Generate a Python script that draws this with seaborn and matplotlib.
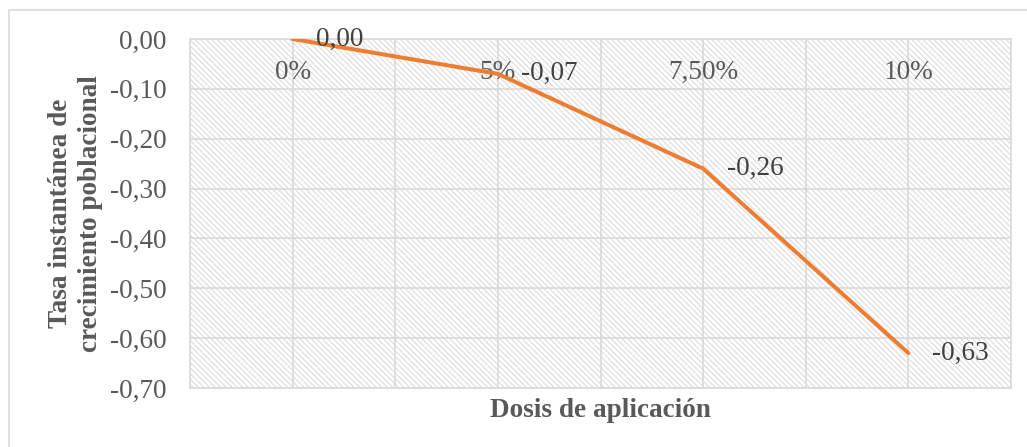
import matplotlib
matplotlib.use("Agg")
import matplotlib.pyplot as plt
from matplotlib.patches import Rectangle
from matplotlib.ticker import MultipleLocator, FuncFormatter
import seaborn as sns
import pandas as pd

# datos
dosis = ["0%", "5%", "7,50%", "10%"]
tasa = [0.00, -0.07, -0.26, -0.63]

sns.set_style("white")
plt.rcParams["font.family"] = ["Liberation Serif", "DejaVu Serif"]
plt.rcParams["hatch.linewidth"] = 0.8

gris_txt = "#595959"
gris_grid = "#D9D9D9"
fs = 19.6

df = pd.DataFrame({"pos": range(len(dosis)), "tasa": tasa})

fig = plt.figure(figsize=(10.27, 4.47), dpi=100)
ax = fig.add_axes([190 / 1027, 1 - 388 / 447, 821 / 1027, 349 / 447])

# fondo rayado del area de trazado
ax.patch.set_facecolor("white")
ax.patch.set_edgecolor("#DCDCDC")
ax.patch.set_hatch("\\\\\\\\\\\\")
ax.patch.set_linewidth(0)

sns.lineplot(data=df, x="pos", y="tasa", ax=ax, color="#ED7D31", lw=2.9,
             zorder=5, solid_joinstyle="round")

ax.set_xlim(-0.5, len(dosis) - 0.5)
ax.set_ylim(-0.70, 0.0)
ax.yaxis.set_major_locator(MultipleLocator(0.1))
ax.yaxis.set_major_formatter(FuncFormatter(lambda v, p: f"{v:.2f}".replace(".", ",").replace("-0,00", "0,00")))

ax.set_xticks(range(len(dosis)))
ax.set_xticklabels(dosis)
ax.set_xticks([i - 0.5 for i in range(len(dosis) + 1)], minor=True)
ax.xaxis.tick_top()
ax.tick_params(axis="x", which="both", length=0, pad=-15, labelsize=fs, labelcolor=gris_txt)
ax.tick_params(axis="y", length=0, pad=17, labelsize=fs, labelcolor=gris_txt)
for lbl in ax.get_xticklabels():
    lbl.set_verticalalignment("top")

ax.grid(True, which="both", axis="x", color=gris_grid, lw=1.2)
ax.grid(True, which="major", axis="y", color=gris_grid, lw=1.2)
ax.set_axisbelow(True)
for s in ax.spines.values():
    s.set_color(gris_grid)
    s.set_linewidth(1.2)

ax.xaxis.set_label_position("bottom")
ax.set_xlabel("Dosis de aplicación", fontsize=fs, fontweight="bold", color=gris_txt, labelpad=7)
ax.set_ylabel("Tasa instantánea de\ncrecimiento poblacional", fontsize=fs, fontweight="bold",
              color=gris_txt, labelpad=5, linespacing=1.25)

# etiquetas de datos
for i, v in enumerate(tasa):
    ax.annotate(f"{v:.2f}".replace(".", ","), (i, v), xytext=(17, 0), textcoords="offset points",
                ha="left", va="center", fontsize=fs, color="#404040", zorder=6)

# borde del grafico
fig.add_artist(Rectangle((9 / 1027, -0.5), 2, 1.5 - 10 / 447, transform=fig.transFigure,
                         fill=False, edgecolor=gris_grid, lw=1.2))

fig.savefig("out.png", dpi=100)
